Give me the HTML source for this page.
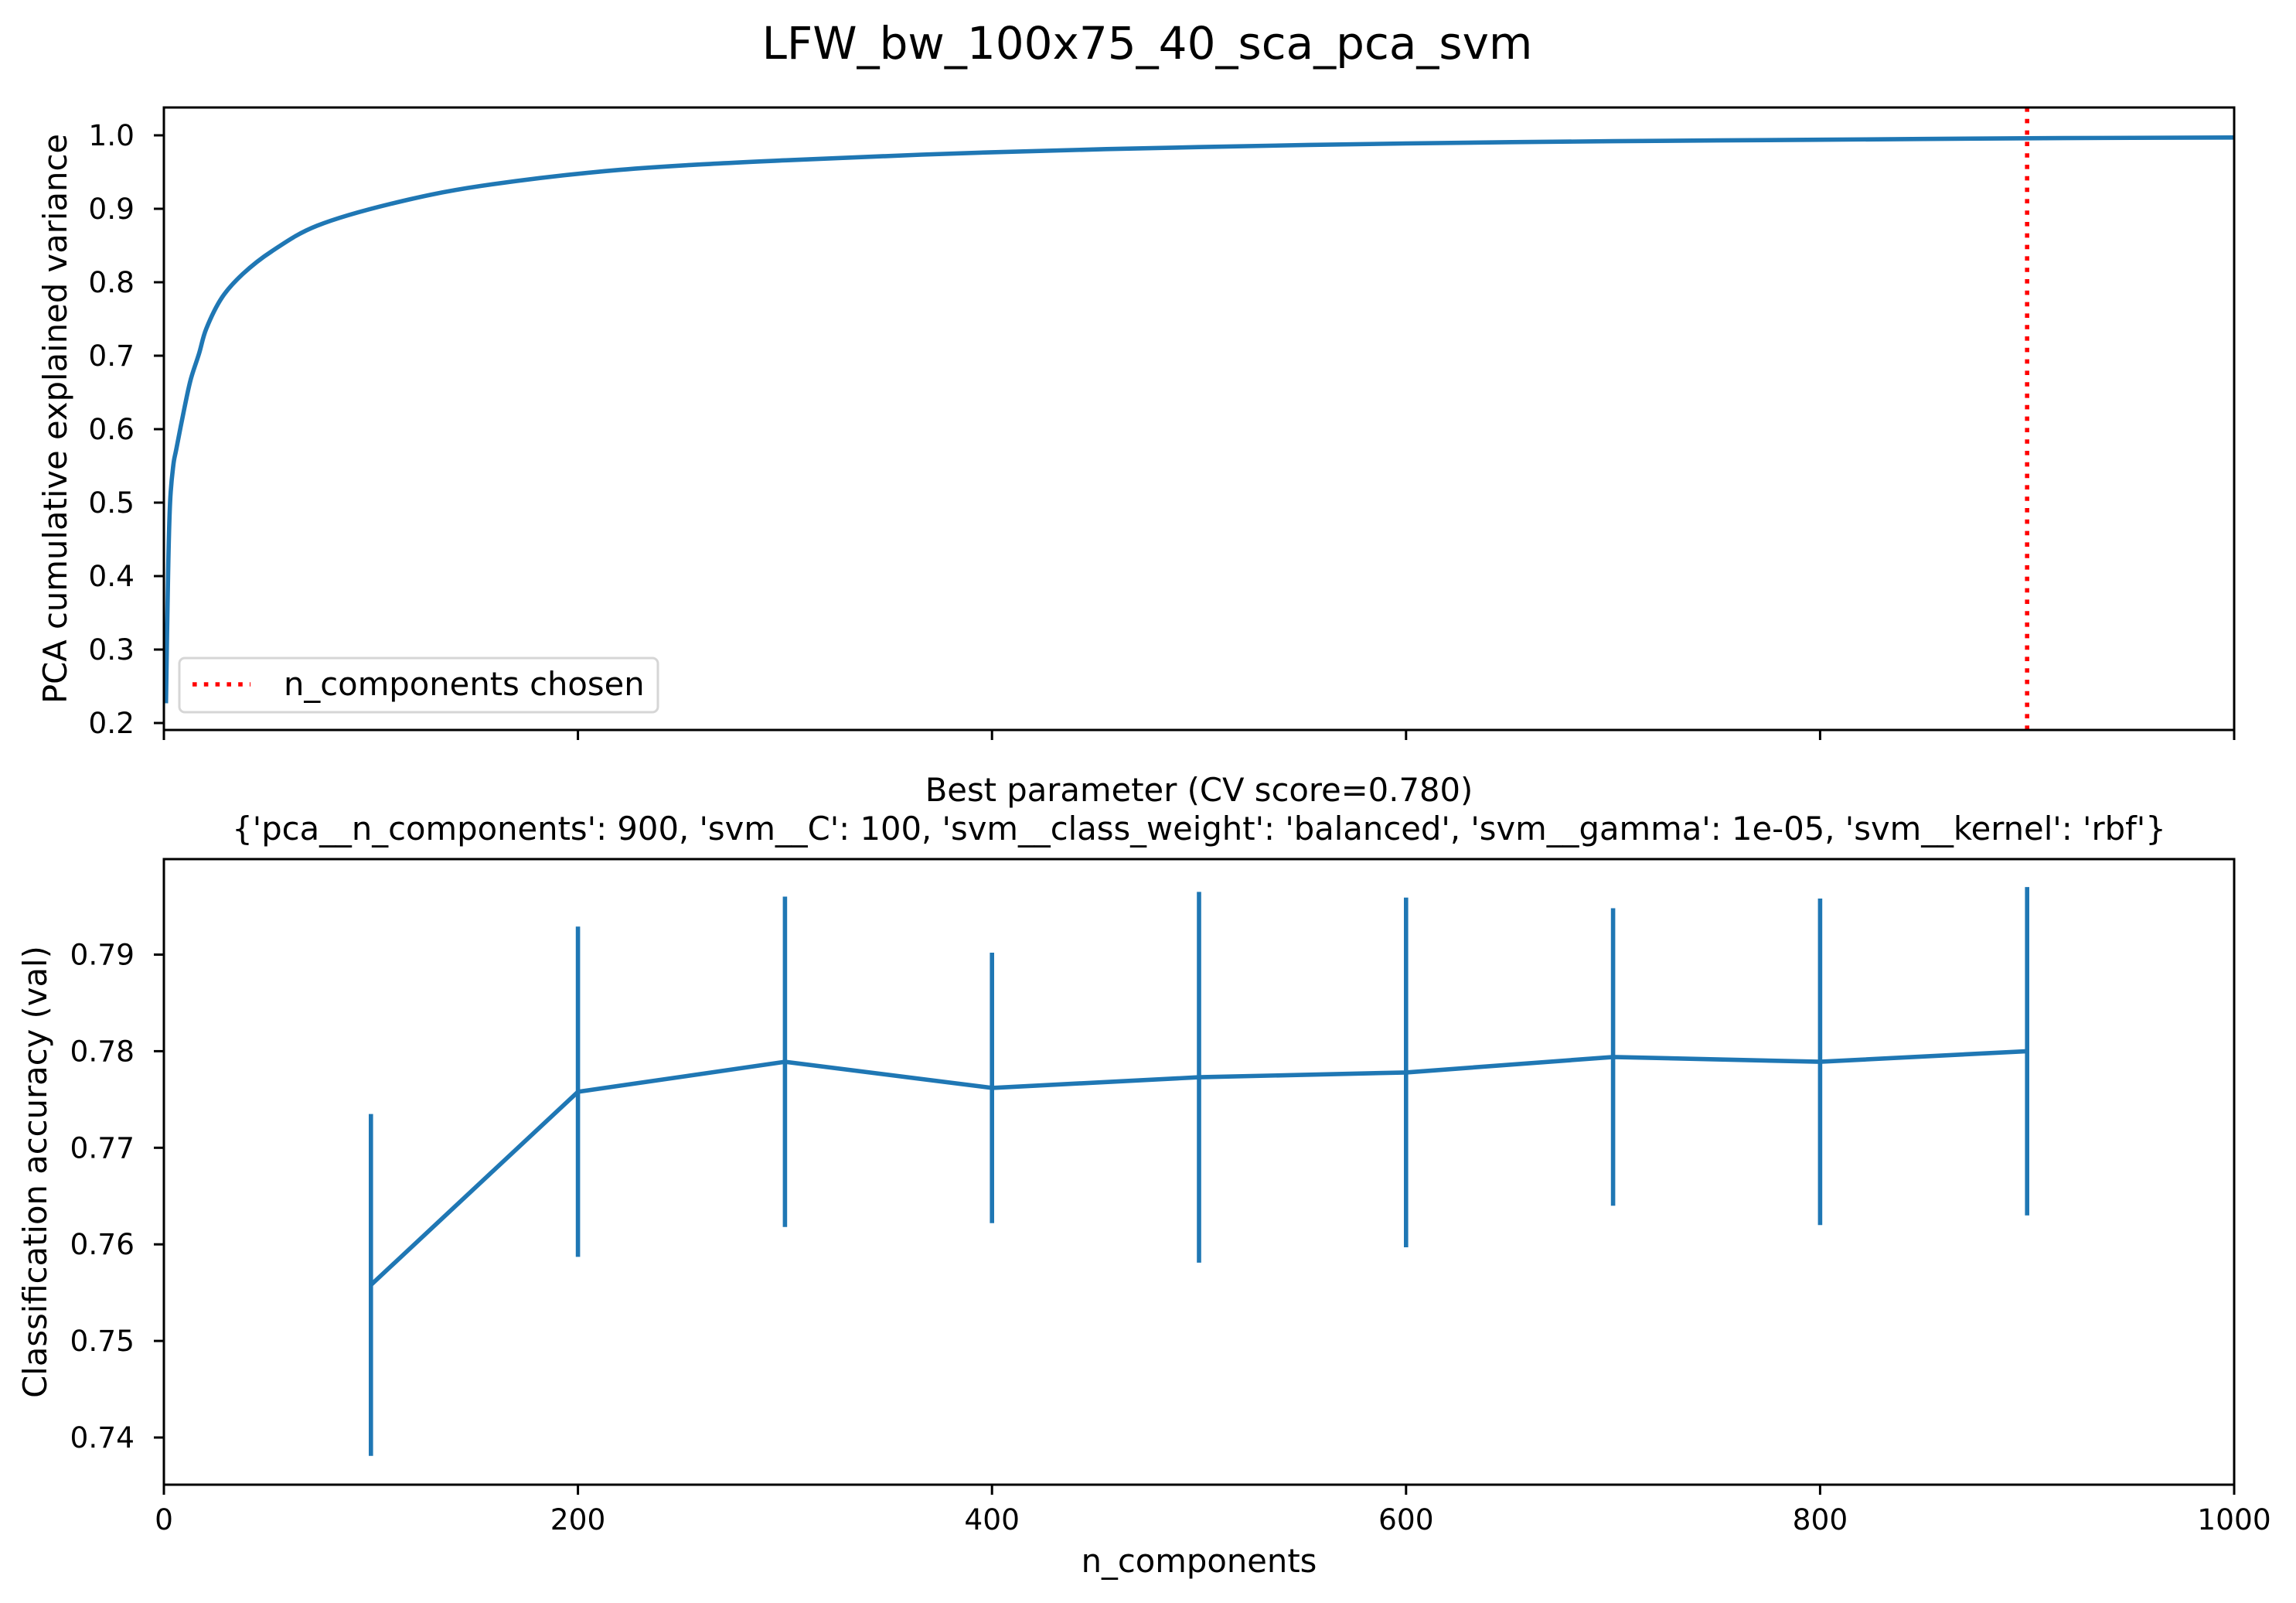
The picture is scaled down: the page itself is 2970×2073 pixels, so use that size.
<!DOCTYPE html>
<html><head><meta charset="utf-8">
<style>
html,body{margin:0;padding:0;background:#fff;}
svg{display:block;font-family:"DejaVu Sans","Liberation Sans",sans-serif;}
</style></head>
<body>
<svg id="fig" xmlns="http://www.w3.org/2000/svg" width="2970" height="2073" viewBox="0 0 2970 2073">
<rect width="2970" height="2073" fill="#fff"/>
<text x="1484" y="76" font-size="58" text-anchor="middle">LFW_bw_100x75_40_sca_pca_svm</text>
<g id="topAx"></g>
<g id="botAx"></g>
</svg>
<script>
const pcaX = [1,2,3,4.5,6,10,13,17,20.5,28,38,52,74,110,153,220,300,400,500,600,700,800,900,1000];
const pcaY = [0.227,0.40,0.50,0.55,0.573,0.63,0.668,0.703,0.737,0.779,0.811,0.842,0.877,0.907,0.931,0.953,0.966,0.977,0.984,0.989,0.992,0.994,0.996,0.997];
const chosenN = 900;
const topYTicks = [0.2,0.3,0.4,0.5,0.6,0.7,0.8,0.9,1.0];
const xTicks = [0,200,400,600,800,1000];
const nComp = [100,200,300,400,500,600,700,800,900];
const accMean = [0.7558,0.7758,0.7789,0.7762,0.7773,0.7778,0.7794,0.7789,0.7800];
const accErr = [0.0177,0.0171,0.0171,0.0140,0.0192,0.0181,0.0154,0.0169,0.0170];
const botYTicks = [0.74,0.75,0.76,0.77,0.78,0.79];

const NS="http://www.w3.org/2000/svg";
function mk(parent,tag,attrs,text){const e=document.createElementNS(NS,tag);for(const k in attrs)e.setAttribute(k,attrs[k]);if(text!==undefined)e.textContent=text;parent.appendChild(e);return e;}
function smoothPath(pts){
  let s='M'+pts[0][0].toFixed(1)+','+pts[0][1].toFixed(1);
  for(let i=0;i<pts.length-1;i++){
    const p0=pts[Math.max(i-1,0)],p1=pts[i],p2=pts[i+1],p3=pts[Math.min(i+2,pts.length-1)];
    const c1x=p1[0]+(p2[0]-p0[0])/6,c1y=p1[1]+(p2[1]-p0[1])/6;
    const c2x=p2[0]-(p3[0]-p1[0])/6,c2y=p2[1]-(p3[1]-p1[1])/6;
    s+=' C'+c1x.toFixed(1)+','+c1y.toFixed(1)+' '+c2x.toFixed(1)+','+c2y.toFixed(1)+' '+p2[0].toFixed(1)+','+p2[1].toFixed(1);
  }
  return s;
}
const L=212,R=2890;
const CX=(L+R)/2;
const sx=v=>L+(v/1000)*(R-L);
const FS=41.7;
// top axes
const T1=139,B1=944;
const sy1=v=>175+(1.0-v)*950;
const gTop=document.getElementById('topAx');
const cp=mk(gTop,'clipPath',{id:'c1'});mk(cp,'rect',{x:L,y:T1,width:R-L,height:B1-T1});
let d=smoothPath(pcaX.map((x,i)=>[sx(x),sy1(pcaY[i])]));
let e=mk(gTop,'path',{d:d,fill:'none',stroke:'#1f77b4','stroke-width':5.6,'stroke-linejoin':'round','clip-path':'url(#c1)'});


e=mk(gTop,'line',{x1:sx(chosenN),x2:sx(chosenN),y1:T1,y2:B1,stroke:'#ff0000','stroke-width':5.6,'stroke-dasharray':'5.6,9.2'});


mk(gTop,'rect',{x:L,y:T1,width:R-L,height:B1-T1,fill:'none',stroke:'#000','stroke-width':3});
topYTicks.forEach(v=>{
  mk(gTop,'line',{x1:L-13,x2:L,y1:sy1(v),y2:sy1(v),stroke:'#000','stroke-width':3});
  const t=mk(gTop,'text',{x:L-38,y:sy1(v)+13,'font-size':37.5,'text-anchor':'end'},v.toFixed(1));
  
  
});
xTicks.forEach(v=>{mk(gTop,'line',{x1:sx(v),x2:sx(v),y1:B1,y2:B1+13,stroke:'#000','stroke-width':3});});
e=mk(gTop,'text',{x:86,y:(T1+B1)/2,'font-size':FS,'text-anchor':'middle',transform:'rotate(-90 86 '+((T1+B1)/2)+')'},'PCA cumulative explained variance');


const lg=mk(gTop,'g',{});


mk(lg,'rect',{x:232,y:851,width:619,height:70,rx:7,fill:'#fff',stroke:'#d6d6d6','stroke-width':3});
mk(lg,'line',{x1:249,x2:324,y1:885,y2:885,stroke:'#ff0000','stroke-width':5.6,'stroke-dasharray':'5.6,9.2'});
mk(lg,'text',{x:367,y:899,'font-size':FS},'n_components chosen');

// bottom axes
const T2=1111,B2=1920;
const sy2=v=>1234.5+(0.79-v)*12490;
const gBot=document.getElementById('botAx');
mk(gBot,'text',{x:CX,y:1036,'font-size':FS,'text-anchor':'middle'},'Best parameter (CV score=0.780)');
mk(gBot,'text',{x:CX,y:1086,'font-size':FS,'text-anchor':'middle'},"{'pca__n_components': 900, 'svm__C': 100, 'svm__class_weight': 'balanced', 'svm__gamma': 1e-05, 'svm__kernel': 'rbf'}");
nComp.forEach((n,i)=>{
  const b=mk(gBot,'line',{x1:sx(n),x2:sx(n),y1:sy2(accMean[i]-accErr[i]),y2:sy2(accMean[i]+accErr[i]),stroke:'#1f77b4','stroke-width':5.6});
  
  
});
d=nComp.map((n,i)=>(i?'L':'M')+sx(n).toFixed(1)+','+sy2(accMean[i]).toFixed(1)).join(' ');
e=mk(gBot,'path',{d:d,fill:'none',stroke:'#1f77b4','stroke-width':5.6,'stroke-linejoin':'round'});


mk(gBot,'rect',{x:L,y:T2,width:R-L,height:B2-T2,fill:'none',stroke:'#000','stroke-width':3});
botYTicks.forEach(v=>{
  mk(gBot,'line',{x1:L-13,x2:L,y1:sy2(v),y2:sy2(v),stroke:'#000','stroke-width':3});
  const t=mk(gBot,'text',{x:L-38,y:sy2(v)+13,'font-size':37.5,'text-anchor':'end'},v.toFixed(2));
  
  
});
xTicks.forEach(v=>{
  mk(gBot,'line',{x1:sx(v),x2:sx(v),y1:B2,y2:B2+13,stroke:'#000','stroke-width':3});
  const t=mk(gBot,'text',{x:sx(v),y:1978,'font-size':37.5,'text-anchor':'middle'},String(v));
  
  
});
e=mk(gBot,'text',{x:CX,y:2033,'font-size':FS,'text-anchor':'middle'},'n_components');


e=mk(gBot,'text',{x:60,y:(T2+B2)/2,'font-size':FS,'text-anchor':'middle',transform:'rotate(-90 60 '+((T2+B2)/2)+')'},'Classification accuracy (val)');


</script>
</body></html>
